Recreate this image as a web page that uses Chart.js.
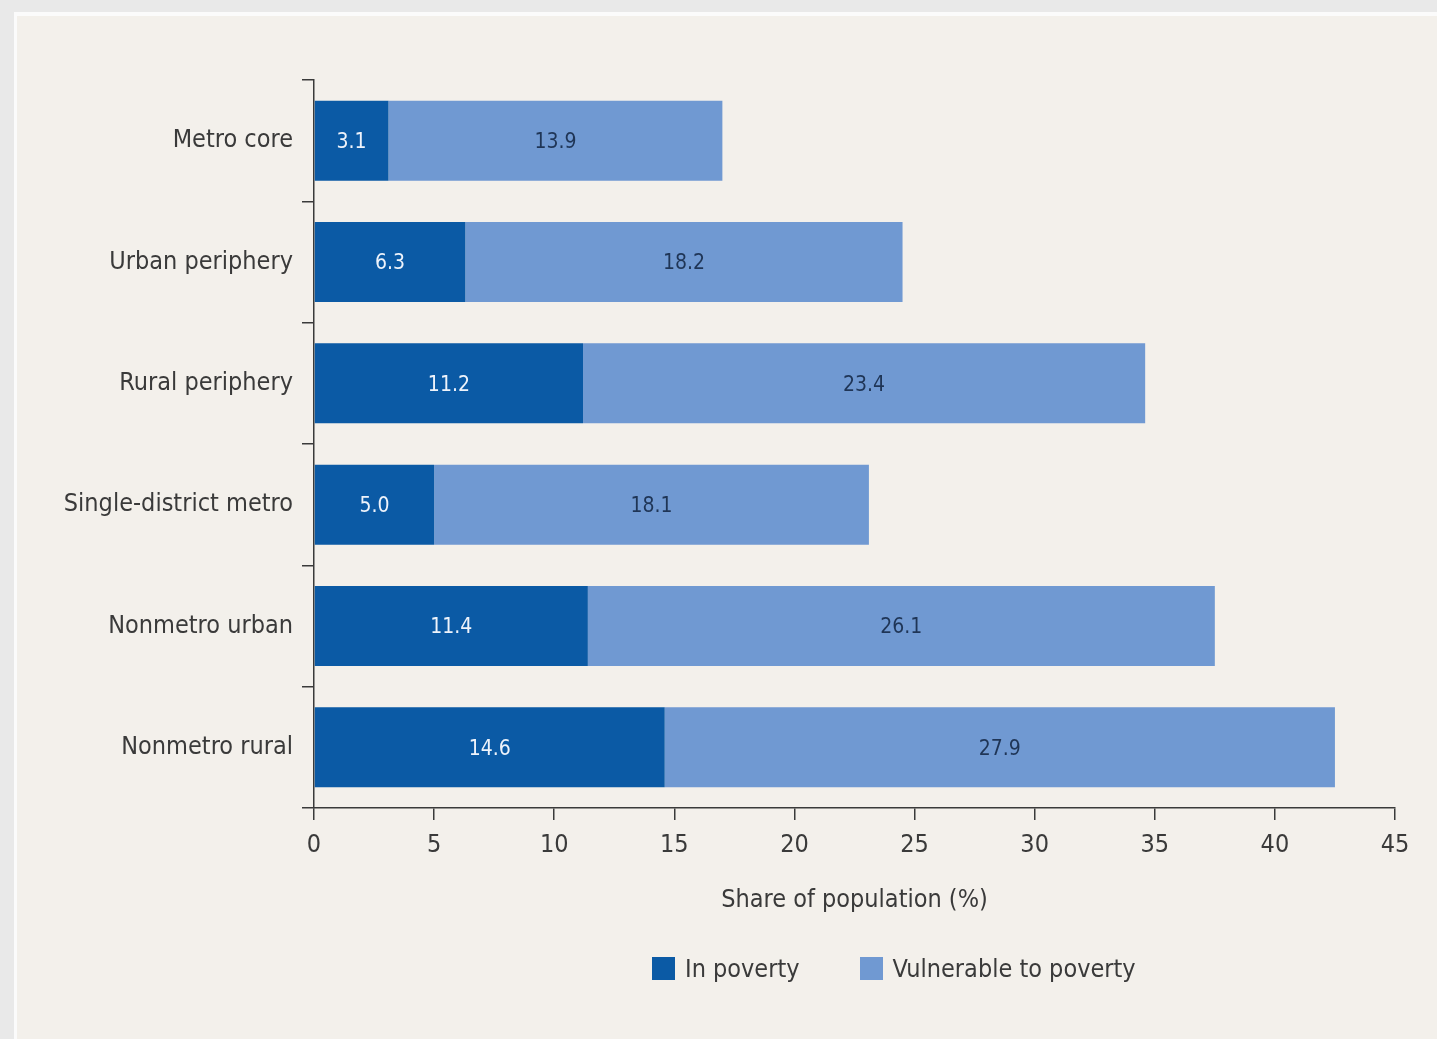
<!DOCTYPE html>
<html>
<head>
<meta charset="utf-8">
<script src="https://cdn.jsdelivr.net/npm/chart.js@4"></script>
<style>
  body { margin: 0; background: #e9e9e9; width: 1437px; height: 1039px; overflow: hidden; position: relative; }
  #panel { position: absolute; left: 14px; top: 12px; right: 0; bottom: 0; background: #f3f0eb; border-left: 3px solid #fbfbfb; border-top: 4px solid #fbfbfb; }
  #wrap { position: absolute; left: 0; top: 0; width: 1437px; height: 1039px; }
  #legend { position: absolute; top: 954px; left: 652px; display: flex; align-items: center; font-family: "Liberation Sans Narrow", "DejaVu Sans Condensed", sans-serif; font-size: 25px; color: #3a3a3a; }
  #legend span.box { display: inline-block; width: 23px; height: 23px; margin-right: 10px; }
  #legend span.item { display: flex; align-items: center; margin-right: 60px; }
</style>
</head>
<body>
<div id="panel"></div>
<div id="wrap"><canvas id="chart" width="1437" height="1039"></canvas></div>
<div id="legend"></div>
<script>
const categories = ['Metro core', 'Urban periphery', 'Rural periphery', 'Single-district metro', 'Nonmetro urban', 'Nonmetro rural'];
const inPoverty = [3.1, 6.3, 11.2, 5.0, 11.4, 14.6];
const vulnerable = [13.9, 18.2, 23.4, 18.1, 26.1, 27.9];
const seriesNames = ['In poverty', 'Vulnerable to poverty'];
const xTicks = [0, 5, 10, 15, 20, 25, 30, 35, 40, 45];

const FONT = '"Liberation Sans Narrow", "DejaVu Sans Condensed", sans-serif';
const DARK = '#0b5aa5';
const LIGHT = '#7099d2';
const AXIS = '#3a3a3a';

// value labels inside bars
const barLabels = {
    id: 'barLabels',
    afterDatasetsDraw(chart) {
        const ctx = chart.ctx;
        ctx.save();
        ctx.font = '21px ' + FONT;
        ctx.textAlign = 'center';
        ctx.textBaseline = 'middle';
        chart.data.datasets.forEach((ds, i) => {
            const meta = chart.getDatasetMeta(i);
            ctx.fillStyle = i === 0 ? '#eef3fb' : '#1f3556';
            meta.data.forEach((bar, j) => {
                const x = (bar.x + bar.base) / 2;
                ctx.fillText(ds.data[j].toFixed(1), x, bar.y + 2);
            });
        });
        ctx.restore();
    }
};

new Chart(document.getElementById('chart'), {
    type: 'bar',
    data: {
        labels: categories,
        datasets: [
            { label: seriesNames[0], data: inPoverty, backgroundColor: DARK },
            { label: seriesNames[1], data: vulnerable, backgroundColor: LIGHT }
        ]
    },
    options: {
        indexAxis: 'y',
        responsive: false,
        animation: false,
        layout: { padding: { top: 80, right: 42, bottom: 116, left: 0 } },
        datasets: { bar: { categoryPercentage: 1, barPercentage: 0.66 } },
        plugins: { legend: { display: false }, tooltip: { enabled: false } },
        scales: {
            x: {
                stacked: true,
                min: 0, max: 45,
                afterBuildTicks: (s) => { s.ticks = xTicks.map(v => ({ value: v })); },
                afterFit: (s) => { s.height = 115; },
                border: { color: AXIS, width: 1.5 },
                grid: { drawOnChartArea: false, color: AXIS, lineWidth: 1.5, tickLength: 12 },
                ticks: { color: AXIS, font: { family: FONT, size: 25 }, padding: 10 },
                title: { display: true, text: 'Share of population (%)', color: AXIS, font: { family: FONT, size: 25 }, padding: { top: 0, bottom: 8 } }
            },
            y: {
                stacked: true,
                afterFit: (s) => { s.width = 314; },
                border: { color: AXIS, width: 1.5 },
                grid: { offset: true, drawOnChartArea: false, color: AXIS, lineWidth: 1.5, tickLength: 12 },
                ticks: { color: AXIS, font: { family: FONT, size: 25 }, padding: 9 }
            }
        }
    },
    plugins: [barLabels]
});

// legend as html
const legend = document.getElementById('legend');
[DARK, LIGHT].forEach((c, i) => {
    const item = document.createElement('span');
    item.className = 'item';
    item.innerHTML = '<span class="box" style="background:' + c + '"></span>' + seriesNames[i];
    legend.appendChild(item);
});
</script>
</body>
</html>
